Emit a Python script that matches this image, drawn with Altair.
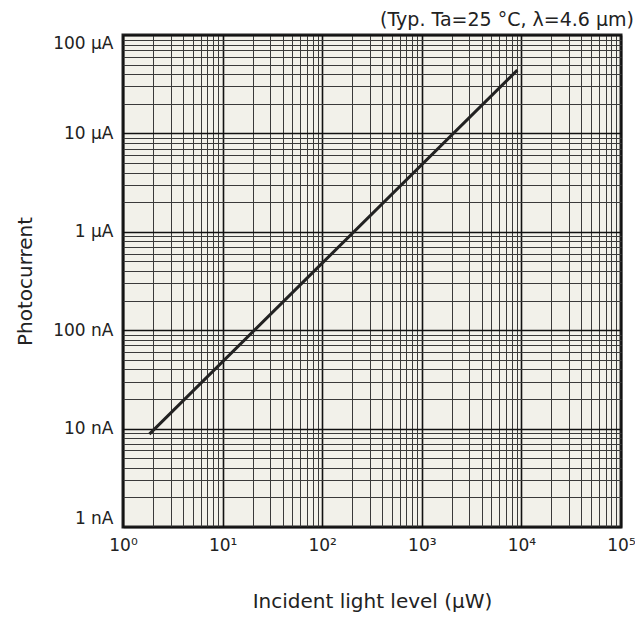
import altair as alt
import pandas as pd

# Data (x in µW, y in nA)
power_uW = [1.84, 100, 9100]
current_nA = [8.8, 480, 44000]

x_grid = [k * 10 ** d for d in range(0, 5) for k in range(1, 10)] + [100000]
y_grid = [k * 10 ** d for d in range(0, 5) for k in range(1, 10)] + [100000]

x_sup = ["10⁰", "10¹", "10²", "10³", "10⁴", "10⁵"]
y_labels = ["1 nA", "10 nA", "100 nA", "1 µA", "10 µA", "100 µA"]

df = pd.DataFrame({"power": power_uW, "current": current_nA})

FONT = "DejaVu Sans"
is_decade = "abs(log(datum.value)/LN10 - round(log(datum.value)/LN10)) < 1e-6"

x_lab_expr = (
    f"({is_decade}) ? {x_sup!r}[round(log(datum.value)/LN10)] : ''"
)
y_lab_expr = (
    f"({is_decade}) ? {y_labels!r}[round(log(datum.value)/LN10)] : ''"
)

grid_color = {"condition": {"test": is_decade, "value": "#111111"}, "value": "#3a3a3a"}
grid_width = {"condition": {"test": is_decade, "value": 1.6}, "value": 1.0}

chart = (
    alt.Chart(df)
    .mark_line(color="#222222", strokeWidth=3)
    .encode(
        x=alt.X(
            "power:Q",
            scale=alt.Scale(type="log", domain=[1, 100000], nice=False),
            axis=alt.Axis(
                title="Incident light level (µW)",
                values=x_grid,
                labelExpr=x_lab_expr,
                labelOverlap=False,
                labelFlush=False,
                labelFont=FONT,
                labelFontSize=17,
                labelColor="#222222",
                labelPadding=10,
                titleFont=FONT,
                titleFontSize=20,
                titleFontWeight="normal",
                titleColor="#222222",
                titlePadding=38,
                ticks=False,
                domain=False,
                grid=True,
                gridColor=grid_color,
                gridWidth=grid_width,
            ),
        ),
        y=alt.Y(
            "current:Q",
            scale=alt.Scale(type="log", domain=[1, 100000], nice=False),
            axis=alt.Axis(
                title="Photocurrent",
                values=y_grid,
                labelExpr=y_lab_expr,
                labelOverlap=False,
                labelFlush=True,
                labelFont=FONT,
                labelFontSize=17,
                labelColor="#222222",
                labelPadding=10,
                titleFont=FONT,
                titleFontSize=20,
                titleFontWeight="normal",
                titleColor="#222222",
                titlePadding=17,
                ticks=False,
                domain=False,
                grid=True,
                gridColor=grid_color,
                gridWidth=grid_width,
            ),
        ),
    )
    .properties(
        width=498,
        height=492,
        title=alt.TitleParams(
            "(Typ. Ta=25 °C, λ=4.6 µm)",
            anchor="end",
            frame="group",
            dx=13,
            offset=1,
            font=FONT,
            fontSize=19,
            fontWeight="normal",
            color="#222222",
        ),
        autosize=alt.AutoSizeParams(type="none"),
        padding={"left": 115, "top": 27, "right": 14, "bottom": 87},
    )
    .configure_view(fill="#f2f1ea", stroke="#222222", strokeWidth=3)
)

chart.save("out.html", embed_options={"renderer": "svg", "actions": False})
